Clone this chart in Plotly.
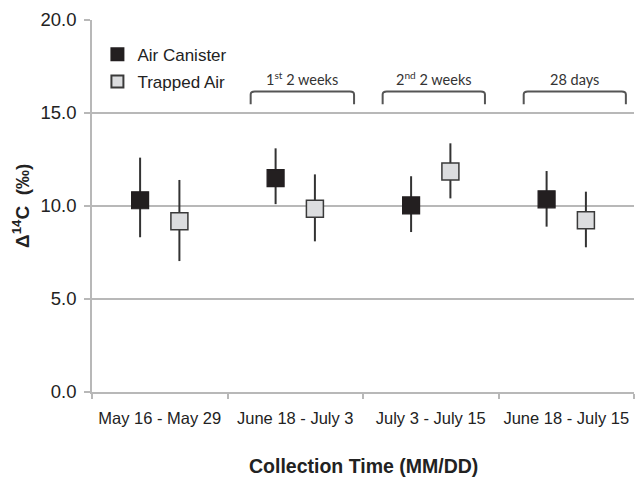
import plotly.graph_objects as go

# ---- data ----
categories = ["May 16 - May 29", "June 18 - July 3", "July 3 - July 15", "June 18 - July 15"]
air_canister = [10.31, 11.50, 10.03, 10.36]
air_canister_plus = [2.29, 1.60, 1.57, 1.52]
air_canister_minus = [1.99, 1.40, 1.43, 1.47]
trapped_air = [9.18, 9.85, 11.85, 9.23]
trapped_air_plus = [2.22, 1.85, 1.52, 1.54]
trapped_air_minus = [2.14, 1.75, 1.44, 1.45]
y_ticks = [0, 5, 10, 15, 20]
bracket_labels = ["1<sup>st</sup> 2 weeks", "2<sup>nd</sup> 2 weeks", "28 days"]

# ---- layout helpers ----
OFFSET = 0.145
idx = list(range(len(categories)))
x_ac = [i - OFFSET for i in idx]
x_ta = [i + OFFSET for i in idx]

FONT = "Liberation Sans, Arial, Helvetica, sans-serif"
GRID = "#b8b8b8"
DARK = "#333333"

fig = go.Figure()
fig.add_trace(go.Scatter(
    x=x_ac, y=air_canister, mode="markers", name="Air Canister",
    legendgroup="a",
    marker=dict(symbol="square", size=17, color="#231f20", line=dict(color="#231f20", width=1.2)),
    error_y=dict(type="data", symmetric=False, array=air_canister_plus,
                 arrayminus=air_canister_minus, width=0, thickness=2, color=DARK),
))
fig.add_trace(go.Scatter(
    x=x_ta, y=trapped_air, mode="markers", name="Trapped Air",
    legendgroup="b",
    marker=dict(symbol="square", size=17, color="#dcdddf", line=dict(color="#3a3a3a", width=1.5)),
    error_y=dict(type="data", symmetric=False, array=trapped_air_plus,
                 arrayminus=trapped_air_minus, width=0, thickness=2, color=DARK),
))

# brackets over category groups (x in category units, y in data units)
bracket_spans = [(0.671, 1.434), (1.645, 2.40), (2.686, 3.44)]
b_top, b_bot, r = 16.15, 15.47, 0.03
shapes = []
annotations = []
for (x0, x1), lab in zip(bracket_spans, bracket_labels):
    path = (f"M {x0},{b_bot} L {x0},{b_top - 0.15} Q {x0},{b_top} {x0 + r},{b_top} "
            f"L {x1 - r},{b_top} Q {x1},{b_top} {x1},{b_top - 0.15} L {x1},{b_bot}")
    shapes.append(dict(type="path", path=path, xref="x", yref="y",
                       line=dict(color="#555555", width=2)))
    annotations.append(dict(x=(x0 + x1) / 2, y=b_top + 0.1, xref="x", yref="y",
                            text=lab, showarrow=False, yanchor="bottom",
                            font=dict(family="Lato, Open Sans, sans-serif", size=14.5, color="#333")))

annotations.append(dict(x=-0.131, y=0.5, xref="paper", yref="paper",
                        text="<b>Δ<sup>14</sup>C\u00a0\u00a0(‰)</b>", textangle=-90,
                        showarrow=False, xanchor="center", yanchor="middle",
                        font=dict(family=FONT, size=19, color="#222")))
annotations.append(dict(x=0.5, y=-0.199, xref="paper", yref="paper",
                        text="<b>Collection Time (MM/DD)</b>",
                        showarrow=False, xanchor="center", yanchor="middle",
                        font=dict(family=FONT, size=19.5, color="#222")))

fig.update_layout(
    width=635, height=477,
    margin=dict(l=92, r=1, t=20, b=85),
    paper_bgcolor="white", plot_bgcolor="white",
    font=dict(family=FONT, color="#222"),
    showlegend=True,
    legend=dict(x=0.01, y=0.955, xanchor="left", yanchor="top",
                bgcolor="rgba(0,0,0,0)", font=dict(size=17, family=FONT, color="#222"),
                itemsizing="constant", tracegroupgap=2),
    shapes=shapes,
    annotations=annotations,
    xaxis=dict(range=[-0.5, 3.5], tickvals=idx, ticktext=categories,
               ticks="", showgrid=False, zeroline=False,
               showline=True, linecolor=GRID, linewidth=1.5,
               tickfont=dict(size=16.5, family=FONT, color="#222"),
               ticklabelstandoff=10,
               minor=dict(tick0=-0.5, dtick=1, ticks="outside", ticklen=5,
                          tickcolor=GRID, tickwidth=1.5, showgrid=False)),
    yaxis=dict(range=[0, 20], tickvals=y_ticks, tickformat=".1f",
               showgrid=True, gridcolor=GRID, gridwidth=1.5, zeroline=False,
               showline=True, linecolor=GRID, linewidth=1.5,
               ticks="outside", ticklen=6, tickcolor=GRID, tickwidth=1.5,
               tickfont=dict(size=18.5, family=FONT, color="#222"),
               ticklabelstandoff=4),
)

fig.write_html("out.html")
